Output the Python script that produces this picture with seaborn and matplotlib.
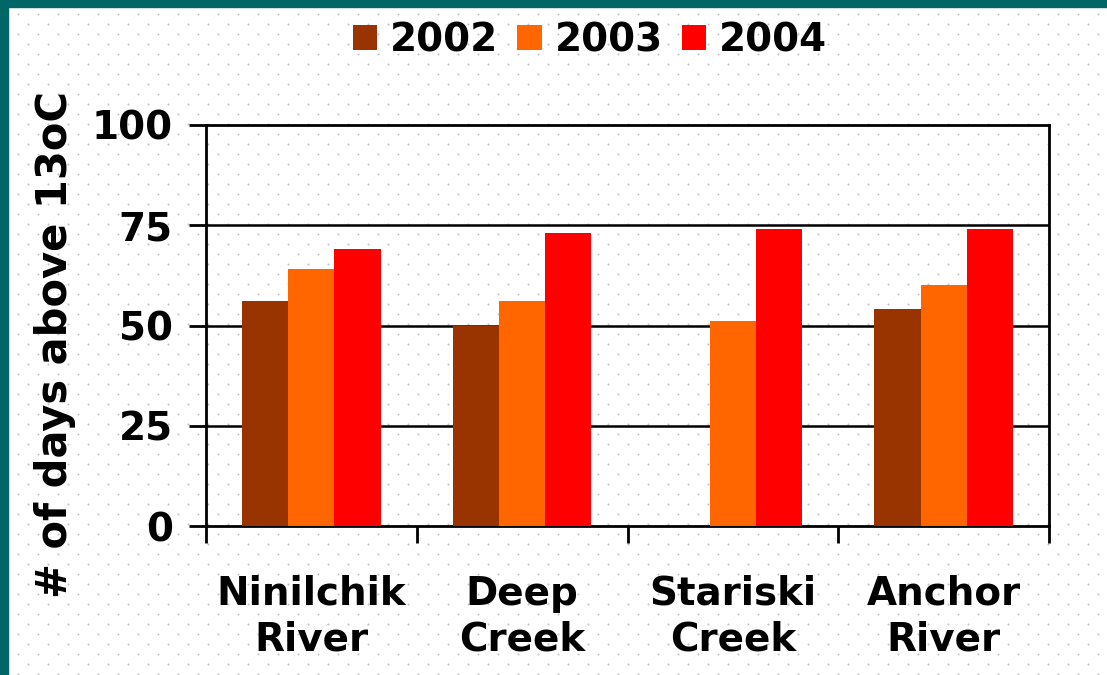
import numpy as np
import pandas as pd
import matplotlib
matplotlib.use("Agg")
import matplotlib.pyplot as plt
from matplotlib.patches import Rectangle
import seaborn as sns

# ---- data ----
sites = ["Ninilchik\nRiver", "Deep\nCreek", "Stariski\nCreek", "Anchor\nRiver"]
years = ["2002", "2003", "2004"]
v2002 = [56, 50, np.nan, 54]
v2003 = [64, 56, 51, 60]
v2004 = [69, 73, 74, 74]
colors = ["#993300", "#FF6600", "#FF0000"]
y_ticks = [0, 25, 50, 75, 100]
y_label = "# of days above 13oC"

df = pd.DataFrame({
    "site": sites * 3,
    "year": [years[0]] * 4 + [years[1]] * 4 + [years[2]] * 4,
    "days": v2002 + v2003 + v2004,
})

sns.set_theme(style="white")
plt.rcParams["font.family"] = ["DejaVu Sans"]
plt.rcParams["text.color"] = "black"
plt.rcParams["xtick.color"] = "black"
plt.rcParams["ytick.color"] = "black"

W, H = 1107, 675
fig = plt.figure(figsize=(W / 100, H / 100), dpi=100, facecolor="white")

# background dotted texture + teal border
bg = fig.add_axes([0, 0, 1, 1], zorder=0)
bg.set_xlim(0, W)
bg.set_ylim(H, 0)
bg.axis("off")
rows = np.arange(14, H, 10)
px, py = [], []
for i, yy in enumerate(rows):
    xs = np.arange(18 + (10 if i % 2 else 0), W, 20)
    px.extend(xs)
    py.extend([yy] * len(xs))
bg.scatter(px, py, s=2.2, c="#c4c4c4", linewidths=0)
bg.add_patch(Rectangle((0, 0), W, 7, color="#006666", zorder=3))
bg.add_patch(Rectangle((0, 0), 8, H, color="#006666", zorder=3))

# main axes
ax = fig.add_axes([206 / W, 1 - 526 / H, (1049 - 206) / W, (526 - 125) / H], zorder=1)
ax.set_facecolor("none")
sns.barplot(data=df, x="site", y="days", hue="year", palette=colors,
            width=0.657, saturation=1, ax=ax, legend=True, linewidth=0,
            zorder=3)

ax.set_ylim(0, 100)
ax.set_xlim(-0.5, 3.5)
ax.set_yticks(y_ticks)
ax.set_yticklabels([str(t) for t in y_ticks], fontsize=28, fontweight="bold")
for t in [25, 50, 75]:
    ax.axhline(t, color="black", lw=1.8, zorder=2)
for s in ax.spines.values():
    s.set_visible(True)
    s.set_color("black")
    s.set_linewidth(2)

ax.tick_params(axis="y", which="major", length=12, width=2, pad=12,
               color="black", left=True, labelcolor="black")
ax.set_xticks(range(4))
ax.set_xticklabels(sites, fontsize=28, fontweight="bold", linespacing=1.26)
ax.tick_params(axis="x", which="major", length=0, pad=35, labelcolor="black")
ax.set_xticks([-0.5, 0.5, 1.5, 2.5, 3.5], minor=True)
ax.tick_params(axis="x", which="minor", length=12, width=2, color="black",
               bottom=True, direction="out")
ax.set_xlabel("")
ax.set_ylabel("")

fig.text(55 / W, 1 - 345 / H, y_label, rotation=90, fontsize=30,
         fontweight="bold", ha="center", va="center", color="black")

handles, labels = ax.get_legend_handles_labels()
ax.get_legend().remove()
fig.legend(handles, labels, loc="center", bbox_to_anchor=(590 / W, 1 - 40 / H),
           ncol=3, frameon=False, prop={"size": 28, "weight": "bold"},
           handlelength=0.62, handleheight=0.62, handletextpad=0.33,
           columnspacing=0.49, borderpad=0, labelcolor="black")

fig.savefig("out.png", dpi=100, facecolor="white")
